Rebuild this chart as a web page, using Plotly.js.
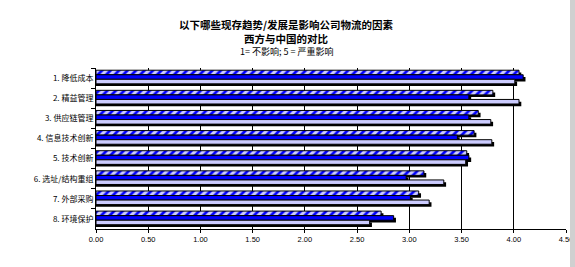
<!DOCTYPE html>
<html>
<head>
<meta charset="utf-8">
<script src="https://cdn.plot.ly/plotly-3.0.1.min.js"></script>
<style>
html,body{margin:0;padding:0;background:#fff;}
#chart{width:575px;height:267px;}
</style>
</head>
<body>
<div id="chart"></div>
<script>
const categories = ["1. 降低成本", "2. 精益管理", "3. 供应链管理", "4. 信息技术创新", "5. 技术创新", "6. 选址/结构重组", "7. 外部采购", "8. 环境保护"];
const seriesHatched = [4.05, 3.80, 3.66, 3.62, 3.55, 3.14, 3.09, 2.73];
const seriesBlue = [4.09, 3.57, 3.57, 3.46, 3.57, 2.97, 3.01, 2.85];
const seriesLavender = [4.01, 4.05, 3.78, 3.79, 3.54, 3.33, 3.19, 2.62];
const xTickVals = [0, 0.5, 1, 1.5, 2, 2.5, 3, 3.5, 4, 4.5];
const titleLines = ["以下哪些现存趋势/发展是影响公司物流的因素", "西方与中国的对比", "1= 不影响; 5 = 严重影响"];

const BW = 0.226;
const offs = [-0.39, -0.39 + BW, -0.39 + 2 * BW];
const SHX = 0.022, SHY = 0.11;
const lav = '#ccccff', blue = '#0000ff';

const traces = [];
const seriesList = [
  {name: '系列1', x: seriesHatched, style: {color: lav, pattern: {shape: '/', fgcolor: blue, bgcolor: lav, size: 6, solidity: 0.45}}},
  {name: '系列2', x: seriesBlue, style: {color: blue}},
  {name: '系列3', x: seriesLavender, style: {color: lav}}
];
// shadows first
seriesList.forEach((s, i) => {
  traces.push({
    type: 'bar', orientation: 'h', y: categories, x: s.x.map(v => v + SHX),
    width: BW, offset: offs[i] + SHY, marker: {color: '#000000', line: {width: 0}},
    hoverinfo: 'skip', showlegend: false
  });
});
seriesList.forEach((s, i) => {
  traces.push({
    type: 'bar', orientation: 'h', y: categories, x: s.x, name: s.name,
    width: BW, offset: offs[i],
    marker: Object.assign({line: {color: '#000000', width: 1}}, s.style),
    hoverinfo: 'skip', showlegend: false
  });
});

const cjk = 'Noto Sans CJK SC, Liberation Sans, sans-serif';
const layout = {
  width: 575, height: 267,
  margin: {l: 96, r: 9, t: 68, b: 38},
  paper_bgcolor: '#ffffff', plot_bgcolor: '#ffffff',
  barmode: 'overlay', showlegend: false,
  annotations: [
    {text: '<b>' + titleLines[0] + '</b>', xref: 'paper', yref: 'paper', x: 0.406, y: 1.268, xanchor: 'center', yanchor: 'middle', showarrow: false, font: {family: cjk, size: 10.5, color: '#000'}},
    {text: '<b>' + titleLines[1] + '</b>', xref: 'paper', yref: 'paper', x: 0.406, y: 1.183, xanchor: 'center', yanchor: 'middle', showarrow: false, font: {family: cjk, size: 10.5, color: '#000'}},
    {text: titleLines[2], xref: 'paper', yref: 'paper', x: 0.406, y: 1.100, xanchor: 'center', yanchor: 'middle', showarrow: false, font: {family: cjk, size: 9, color: '#000'}}
  ],
  xaxis: {
    range: [0, 4.5], tickvals: xTickVals, tickformat: '.2f',
    showgrid: true, gridcolor: '#000', gridwidth: 1, zeroline: false,
    showline: true, linecolor: '#000', linewidth: 1,
    ticks: 'outside', ticklen: 3, tickcolor: '#000',
    tickfont: {family: 'Liberation Sans, Arial, sans-serif', size: 7.5, color: '#000'}
  },
  yaxis: {
    type: 'category', autorange: 'reversed',
    showgrid: false, zeroline: false,
    showline: true, linecolor: '#000', linewidth: 1,
    ticks: 'outside', tickson: 'boundaries', ticklen: 4, tickcolor: '#000',
    tickfont: {family: 'Noto Sans CJK SC, sans-serif', size: 8, color: '#000'}
  },
  shapes: [
    {type: 'rect', xref: 'paper', yref: 'paper', x0: 1.0085, x1: 1.03, y0: -0.3, y1: 1.5,
     fillcolor: '#d0d0d0', line: {width: 0}, layer: 'above'}
  ]
};

Plotly.newPlot('chart', traces, layout, {displayModeBar: false, staticPlot: true});
</script>
</body>
</html>
